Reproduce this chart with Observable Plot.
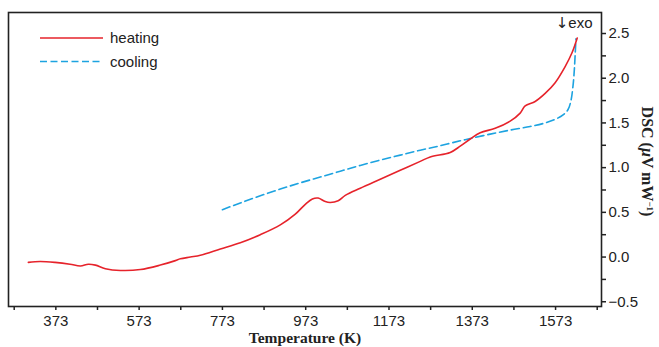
<!DOCTYPE html>
<html>
<head>
<meta charset="utf-8">
<script src="https://cdn.jsdelivr.net/npm/d3@7"></script>
<script src="https://cdn.jsdelivr.net/npm/@observablehq/plot@0.6"></script>
<style>
  html, body { margin: 0; padding: 0; background: #fff; }
  #chart { width: 659px; height: 347px; overflow: hidden; }
</style>
</head>
<body>
<div id="chart"></div>
<script>
// ---- data ----
const heatingT = [307, 335, 371, 407, 432, 451, 468, 492, 528, 576, 624, 660, 672, 696, 720, 768, 816, 864, 912, 948, 972, 989, 1003, 1020, 1032, 1051, 1068, 1104, 1152, 1200, 1248, 1272, 1320, 1344, 1368, 1392, 1428, 1464, 1488, 1500, 1524, 1548, 1572, 1596, 1613, 1625];
const heatingDSC = [-0.06, -0.05, -0.06, -0.08, -0.10, -0.08, -0.09, -0.13, -0.15, -0.14, -0.09, -0.04, -0.02, 0.00, 0.02, 0.09, 0.16, 0.25, 0.36, 0.48, 0.59, 0.65, 0.66, 0.62, 0.61, 0.63, 0.69, 0.77, 0.87, 0.97, 1.07, 1.12, 1.17, 1.24, 1.32, 1.39, 1.44, 1.52, 1.61, 1.69, 1.74, 1.83, 1.95, 2.13, 2.29, 2.45];
const coolingT = [773, 816, 864, 912, 960, 1008, 1056, 1104, 1152, 1200, 1248, 1296, 1344, 1368, 1416, 1464, 1512, 1548, 1572, 1591, 1603, 1610, 1615, 1618, 1620, 1622];
const coolingDSC = [0.53, 0.605, 0.685, 0.76, 0.83, 0.895, 0.96, 1.025, 1.085, 1.14, 1.195, 1.245, 1.30, 1.325, 1.375, 1.42, 1.46, 1.50, 1.54, 1.59, 1.65, 1.75, 1.92, 2.09, 2.26, 2.44];
const seriesNames = ["heating", "cooling"];
const xTicks = [273, 373, 473, 573, 673, 773, 873, 973, 1073, 1173, 1273, 1373, 1473, 1573, 1673];
const xTickLabels = [373, 573, 773, 973, 1173, 1373, 1573];
const yTicks = [-0.5, -0.25, 0, 0.25, 0.5, 0.75, 1, 1.25, 1.5, 1.75, 2, 2.25, 2.5];
const yTickLabels = [-0.5, 0, 0.5, 1, 1.5, 2, 2.5];
const xTitle = "Temperature (K)";
const yTitle = "DSC (μV mW⁻¹)";
const annotation = "↓exo";

const heating = heatingT.map((t, i) => ({T: t, DSC: heatingDSC[i]}));
const cooling = coolingT.map((t, i) => ({T: t, DSC: coolingDSC[i]}));

const RED = "#e6232b";
const BLUE = "#1da3e0";

const fmtY = d => yTickLabels.some(v => Math.abs(v - d) < 1e-9) ? (d < 0 ? "\u2212" + Math.abs(d).toFixed(1) : d.toFixed(1)) : "";
const fmtX = d => xTickLabels.includes(d) ? String(d) : "";

const plot = Plot.plot({
  width: 659,
  height: 347,
  marginLeft: 8,
  marginRight: 58,
  marginTop: 12,
  marginBottom: 41,
  x: {domain: [259.3, 1683.3]},
  y: {domain: [-0.553, 2.735]},
  style: {fontFamily: "'Liberation Sans', Arial, sans-serif", fontSize: "15px", color: "#222", background: "#fff"},
  marks: [
    Plot.axisX({ticks: xTicks, tickSize: 4, tickPadding: 5, tickFormat: fmtX, label: null, strokeWidth: 1.5}),
    Plot.axisY({anchor: "right", ticks: yTicks, tickSize: 4, tickPadding: 3, tickFormat: fmtY, label: null, strokeWidth: 1.5}),
    Plot.frame({stroke: "#222", strokeWidth: 1.6}),
    Plot.line(cooling, {x: "T", y: "DSC", stroke: BLUE, strokeWidth: 1.6, strokeDasharray: "8,4", curve: "catmull-rom"}),
    Plot.line(heating, {x: "T", y: "DSC", stroke: RED, strokeWidth: 1.6, curve: "catmull-rom"}),
    Plot.text([annotation], {frameAnchor: "top-right", dx: -9, dy: 11, textAnchor: "end", lineAnchor: "middle", fontSize: 15, className: "exo"}),
    Plot.text([xTitle], {frameAnchor: "bottom", dy: 32, lineAnchor: "middle", textAnchor: "middle", fontFamily: "'Liberation Serif', 'Times New Roman', serif", fontWeight: "bold", fontSize: 15.5}),
    Plot.text([yTitle], {frameAnchor: "right", dx: 46, dy: 2, rotate: 90, lineAnchor: "middle", textAnchor: "middle", fontFamily: "'Liberation Serif', 'Times New Roman', serif", fontWeight: "bold", fontSize: 15, className: "ytitle"})
  ]
});

const svg = d3.select(plot);

// make the arrow of the annotation full height
svg.selectAll("g.exo text").each(function () {
  const t = d3.select(this);
  const s = t.text();
  t.text(null);
  t.append("tspan").attr("font-family", "'DejaVu Sans', sans-serif").attr("font-size", 15).text(s.slice(0, 1));
  t.append("tspan").text(s.slice(1));
});

// typeset the y title: italic mu and a real superscript
svg.selectAll("g.ytitle text").each(function () {
  const t = d3.select(this);
  const s = t.text(); // "DSC (μV mW⁻¹)"
  const iMu = s.indexOf("μ");
  const iSup = s.indexOf("⁻");
  t.text(null);
  t.append("tspan").text(s.slice(0, iMu));
  t.append("tspan").attr("font-style", "italic").text("μ");
  t.append("tspan").text(s.slice(iMu + 1, iSup));
  t.append("tspan").attr("font-size", 9).attr("dy", "-0.55em").text("\u2212" + "1");
  t.append("tspan").attr("dy", "0.35em").text(s.slice(iSup + 2));
});

// legend inside the frame, top-left
const leg = svg.append("g")
  .attr("font-family", "'Liberation Sans', Arial, sans-serif")
  .attr("font-size", 15).attr("fill", "#222").attr("text-anchor", "start");
const legendItems = [
  {name: seriesNames[0], color: RED, dash: null, y: 38},
  {name: seriesNames[1], color: BLUE, dash: "7,3.5", y: 61.5}
];
legendItems.forEach(it => {
  leg.append("line").attr("x1", 40).attr("x2", 103).attr("y1", it.y).attr("y2", it.y)
    .attr("stroke", it.color).attr("stroke-width", 1.6).attr("stroke-dasharray", it.dash);
  leg.append("text").attr("x", 110).attr("y", it.y).attr("dy", "0.35em").attr("text-anchor", "start").text(it.name);
});

document.getElementById("chart").appendChild(plot);

// fit the rotated title to the length it has in the reference (~115px)
svg.selectAll("g.ytitle text").each(function () {
  const len = this.getComputedTextLength();
  if (len > 0) {
    const fs = Math.max(12, Math.min(16, 15 * 115 / len));
    d3.select(this).attr("font-size", fs);
  }
});
</script>
</body>
</html>
